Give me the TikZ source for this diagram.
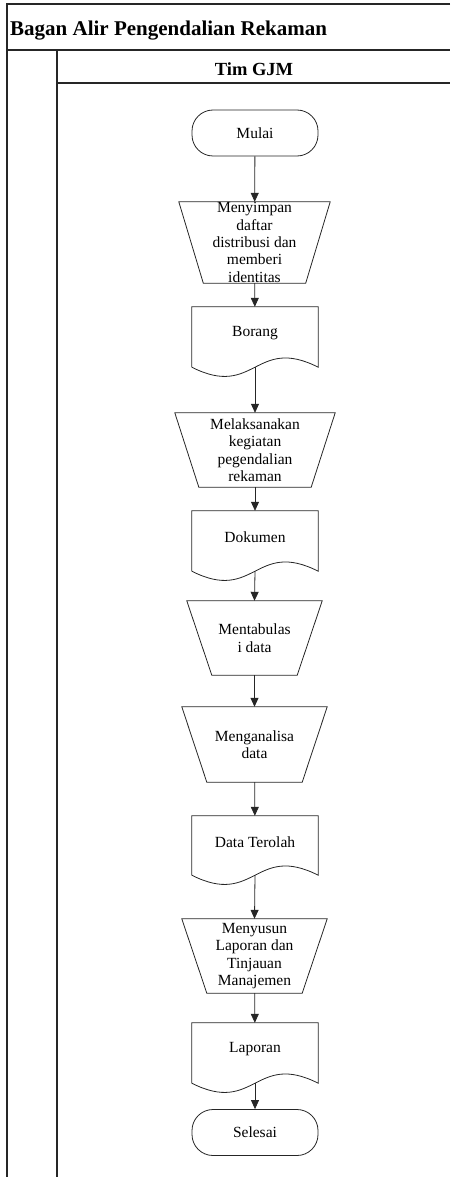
\documentclass[tikz,border=0pt]{standalone}
\usepackage{fontspec}
\setmainfont{Liberation Serif}
\usetikzlibrary{arrows.meta,calc}
\begin{document}
\begin{tikzpicture}[x=1pt,y=-1pt,
  frame/.style={line width=1.1pt, draw=black!85},
  shp/.style={line width=0.8pt, draw=black!85},
  txt/.style={font=\fontsize{15.5}{17.4}\selectfont, align=center, inner sep=0pt},
  term/.style={txt, shp, rounded corners=21pt, minimum width=126pt, minimum height=46pt},
  blank/.style={txt, minimum width=#1},
  flow/.style={line width=0.8pt, draw=black!85, -{Triangle[length=9pt,width=8pt]}}
]
\useasboundingbox (0,0) rectangle (450,1177);
% frame
\draw[frame] (450,4) -- (7,4) -- (7,1177);
\draw[frame] (7,50) -- (450,50);
\draw[frame] (57,50) -- (57,1177);
\draw[frame] (57,83) -- (450,83);
\node[anchor=base west, inner sep=0pt, font=\bfseries\fontsize{21}{24}\selectfont] (title) at (10,36) {Bagan Alir Pengendalian Rekaman};
\node[anchor=base, inner sep=0pt, font=\bfseries\fontsize{18.5}{20}\selectfont] (lane) at (254,76) {Tim GJM};

% nodes
\node[term] (mulai) at (255,133) {Mulai};
\node[blank=151pt, minimum height=81pt] (simpan) at (254.5,242.5) {Menyimpan\\daftar\\distribusi dan\\memberi\\identitas};
\node[blank=126pt, minimum height=60pt] (borang) at (255,337) {\raisebox{4pt}[\height][\depth]{Borang}};
\node[blank=160pt, minimum height=74pt] (laksana) at (255,450) {Melaksanakan\\kegiatan\\pegendalian\\rekaman};
\node[blank=126pt, minimum height=60pt] (dokumen) at (255,541) {\raisebox{4pt}[\height][\depth]{Dokumen}};
\node[blank=135pt, minimum height=74pt] (tabulasi) at (254.5,638) {Mentabulas\\i data};
\node[blank=145pt, minimum height=75pt] (analisa) at (254.5,744.5) {Menganalisa\\data};
\node[blank=126pt, minimum height=59pt] (terolah) at (255,845.5) {\raisebox{3pt}[\height][\depth]{Data Terolah}};
\node[blank=145pt, minimum height=74pt] (susun) at (254.5,956) {Menyusun\\Laporan dan\\Tinjauan\\Manajemen};
\node[blank=126pt, minimum height=60pt] (laporan) at (255,1053) {\raisebox{4pt}[\height][\depth]{Laporan}};
\node[term] (selesai) at (255,1132.5) {Selesai};

% manual operation shapes
\foreach \n/\i in {simpan/24.5, laksana/24, tabulasi/25, analisa/25, susun/25}{
  \draw[shp] (\n.north west) -- (\n.north east) -- ($(\n.south east)+(-\i,0)$) -- ($(\n.south west)+(\i,0)$) -- cycle;
}
% document shapes
\foreach \n in {borang, dokumen, terolah, laporan}{
  \draw[shp] (\n.south west) -- (\n.north west) -- (\n.north east) -- (\n.south east)
    .. controls ($(\n.south)+(0,-32)$) and ($(\n.south)+(0,32)$) .. (\n.south west);
}

% connectors
\draw[flow] (mulai) -- (simpan);
\draw[flow] (simpan) -- (borang);
\draw[flow] (borang.south) -- (laksana.north);
\draw[flow] (laksana) -- (dokumen);
\draw[flow] (dokumen.south) -- (tabulasi.north);
\draw[flow] (tabulasi) -- (analisa);
\draw[flow] (analisa) -- (terolah);
\draw[flow] (terolah.south) -- (susun.north);
\draw[flow] (susun) -- (laporan);
\draw[flow] (laporan.south) -- (selesai.north);
\end{tikzpicture}
\end{document}
